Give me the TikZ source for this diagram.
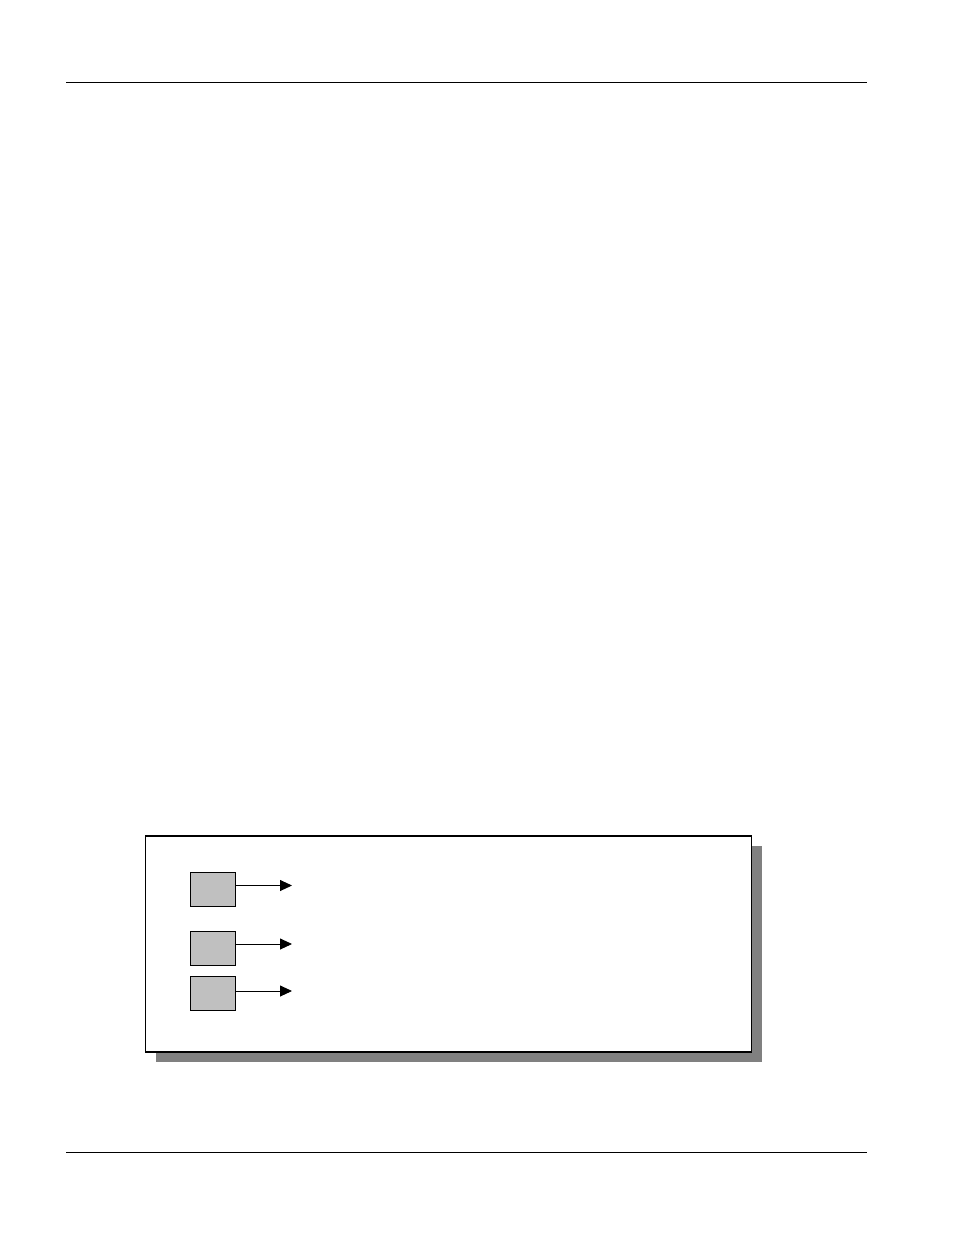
\documentclass[tikz,border=0pt]{standalone}
\usepackage{tikz}
\usetikzlibrary{arrows.meta, positioning, calc}

\definecolor{boxgray}{RGB}{192,192,192}
\definecolor{shadowgray}{RGB}{128,128,128}

\begin{document}
\begin{tikzpicture}[x=1pt, y=-1pt,
    panel/.style={rectangle, draw, line width=1.2pt, fill=white, minimum width=606pt, minimum height=216pt, inner sep=0pt},
    panelshade/.style={rectangle, fill=shadowgray, minimum width=606pt, minimum height=216pt, inner sep=0pt},
    smallbox/.style={rectangle, draw, line width=0.9pt, fill=boxgray, minimum width=45pt, minimum height=34pt, inner sep=0pt},
    arrow/.style={-{Triangle[length=12pt, width=11pt]}, line width=0.9pt},
    rule/.style={line width=1pt}
]

% page size
\useasboundingbox (0,0) rectangle (954,1235);

% header and footer rules
\coordinate (headL) at (66,82.5);
\coordinate (headR) at (867,82.5);
\coordinate (footL) at (66,1152.5);
\coordinate (footR) at (867,1152.5);
\draw[rule] (headL) -- (headR);
\draw[rule] (footL) -- (footR);

% framed panel with its shadow
\node[panelshade] (shade) at (458.5,953.5) {};
\node[panel] (frame) at (448.5,944) {};

% grey boxes
\node[smallbox] (boxA) at (213,889) {};
\node[smallbox] (boxB) at (213,948) {};
\node[smallbox] (boxC) at (213,993) {};

% arrow ends
\coordinate (tipA) at (292,885.5);
\coordinate (tipB) at (292,944);
\coordinate (tipC) at (292,991);

\draw[arrow] (boxA.east |- tipA) -- (tipA);
\draw[arrow] (boxB.east |- tipB) -- (tipB);
\draw[arrow] (boxC.east |- tipC) -- (tipC);

\end{tikzpicture}
\end{document}
